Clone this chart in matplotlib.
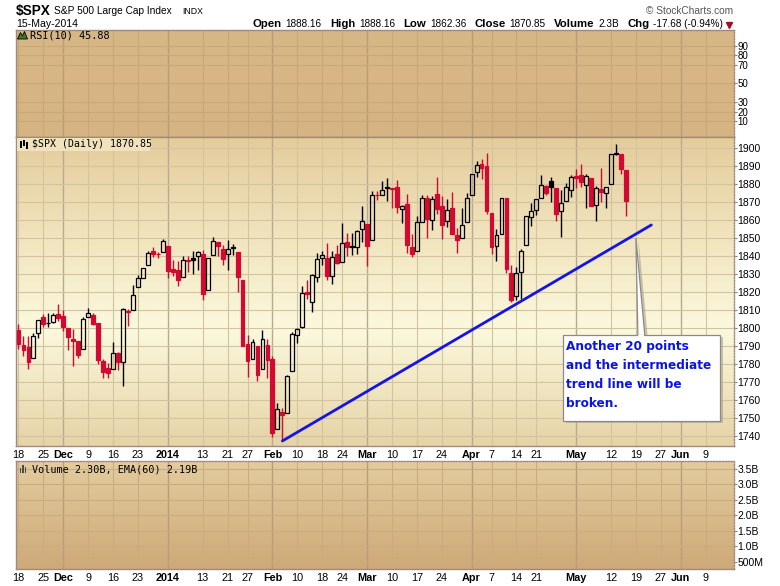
import numpy as np
import pandas as pd
import matplotlib
matplotlib.use("Agg")
import matplotlib.pyplot as plt
from matplotlib.patches import Rectangle, Polygon

# ---------------------------------------------------------------------------
# data: $SPX daily candles, 18-Nov-2013 .. 15-May-2014
# ---------------------------------------------------------------------------
HOLIDAYS = ["2013-11-28", "2013-12-25", "2014-01-01", "2014-01-20",
            "2014-02-17", "2014-04-18", "2014-05-26"]
FIRST_DAY, LAST_BAR, LAST_DAY = "2013-11-18", "2014-05-15", "2014-06-16"
PREV_CLOSE = 1798.2

OPEN = [1798.8, 1790.8, 1789.6, 1783.5, 1797.2, 1806.3, 1802.9, 1803.5, 1808.0,
        1806.6, 1800.1, 1794.2, 1792.8, 1788.4, 1806.2, 1807.6, 1802.8, 1781.7, 1778.0,
        1777.5, 1786.5, 1781.5, 1809.0, 1810.4, 1822.9, 1828.0, 1835.0, 1843.0, 1841.5, 1842.6,
        1845.9, 1833.2, 1832.3, 1828.7, 1837.9, 1839.0, 1840.1, 1841.3, 1821.4, 1840.5, 1848.0,
        1844.2, 1841.1, 1844.7, 1842.3, 1827.0, 1791.0, 1783.0, 1790.2, 1777.2, 1790.9,
        1782.7, 1743.8, 1753.4, 1753.0, 1776.0, 1796.2, 1800.5, 1820.1, 1814.8, 1828.5,
        1839.0, 1838.9, 1829.2, 1841.1, 1836.8, 1847.7, 1845.8, 1844.9, 1855.1,
        1857.7, 1849.2, 1874.1, 1874.2, 1878.5, 1877.9, 1878.3, 1866.2, 1869.1, 1845.1,
        1842.8, 1858.9, 1872.3, 1860.1, 1874.5, 1867.7, 1859.5, 1867.1, 1852.1, 1850.1, 1859.2,
        1874.0, 1886.6, 1891.4, 1890.3, 1863.9, 1845.5, 1852.6, 1872.3, 1830.7,
        1818.2, 1831.5, 1846.0, 1861.7, 1865.8, 1872.6, 1879.3, 1882.0, 1877.7,
        1865.0, 1870.8, 1877.1, 1884.4, 1885.3, 1879.5, 1883.7, 1868.5, 1877.4, 1875.3,
        1880.0, 1896.8, 1897.1, 1888.2]
HIGH = [1802.3, 1795.5, 1795.7, 1797.2, 1804.8, 1808.1, 1808.4, 1808.3, 1813.6,
        1810.0, 1800.1, 1799.8, 1792.8, 1806.0, 1811.5, 1808.5, 1803.0, 1783.0, 1780.9,
        1792.2, 1786.8, 1811.1, 1810.9, 1823.8, 1829.8, 1833.3, 1842.8, 1844.9, 1842.5, 1849.4,
        1845.9, 1838.2, 1837.2, 1840.1, 1840.0, 1843.2, 1843.2, 1843.5, 1839.3, 1850.8, 1848.0,
        1846.0, 1849.3, 1846.9, 1842.3, 1827.0, 1796.0, 1793.9, 1790.2, 1798.8, 1793.9,
        1784.8, 1758.7, 1755.8, 1774.1, 1798.0, 1799.9, 1823.5, 1826.6, 1830.3, 1841.7,
        1842.9, 1847.5, 1842.8, 1846.1, 1858.7, 1852.9, 1852.7, 1854.5, 1867.9,
        1857.7, 1876.2, 1876.5, 1881.9, 1883.6, 1877.9, 1882.4, 1868.4, 1874.4, 1852.4,
        1862.3, 1873.8, 1874.1, 1873.5, 1884.0, 1873.3, 1871.9, 1875.9, 1855.6, 1866.6, 1875.2,
        1885.8, 1893.2, 1893.8, 1897.3, 1864.0, 1855.0, 1872.4, 1872.5, 1835.1,
        1834.2, 1844.0, 1862.3, 1869.6, 1871.9, 1884.9, 1879.8, 1884.1, 1877.7,
        1877.0, 1880.6, 1885.2, 1888.6, 1891.3, 1885.5, 1883.7, 1878.8, 1889.1, 1878.6,
        1897.1, 1902.2, 1897.1, 1888.2]
LOW = [1788.4, 1784.7, 1777.2, 1783.5, 1794.7, 1800.6, 1800.8, 1802.8, 1804.0,
       1798.6, 1787.9, 1779.1, 1783.4, 1788.4, 1806.2, 1801.8, 1780.1, 1772.3, 1772.5,
       1777.5, 1777.1, 1768.0, 1801.4, 1810.3, 1822.9, 1828.0, 1835.0, 1839.8, 1838.8, 1842.4,
       1827.7, 1829.1, 1823.7, 1828.7, 1831.4, 1830.4, 1832.4, 1815.5, 1821.4, 1840.5, 1840.3,
       1835.2, 1832.4, 1840.9, 1820.1, 1790.3, 1772.9, 1783.0, 1770.5, 1777.2, 1772.3,
       1739.7, 1743.8, 1737.9, 1753.0, 1776.0, 1791.8, 1800.4, 1816.0, 1809.2, 1825.6,
       1835.0, 1827.0, 1824.6, 1835.6, 1836.8, 1840.2, 1840.7, 1841.1, 1847.7,
       1834.4, 1849.2, 1871.1, 1874.2, 1870.6, 1867.0, 1863.9, 1858.4, 1841.9, 1839.6,
       1842.8, 1858.9, 1850.4, 1854.6, 1863.5, 1849.7, 1856.0, 1852.6, 1842.1, 1850.1, 1859.2,
       1874.0, 1883.8, 1882.7, 1863.3, 1841.5, 1837.5, 1852.4, 1830.9, 1814.4,
       1815.8, 1816.3, 1846.0, 1856.7, 1863.2, 1872.6, 1873.9, 1870.2, 1859.7,
       1850.6, 1870.8, 1872.7, 1878.0, 1878.5, 1866.8, 1867.7, 1859.8, 1870.1, 1867.0,
       1880.0, 1896.1, 1885.8, 1862.4]
CLOSE = [1791.5, 1787.9, 1781.4, 1795.9, 1804.8, 1802.5, 1802.8, 1807.2, 1805.8,
         1800.9, 1795.2, 1792.8, 1785.0, 1805.1, 1808.4, 1802.6, 1782.2, 1775.5, 1775.3,
         1786.5, 1781.0, 1810.7, 1809.6, 1818.3, 1828.0, 1833.3, 1842.0, 1841.4, 1841.1, 1848.4,
         1832.0, 1831.4, 1826.8, 1837.9, 1837.5, 1838.1, 1842.4, 1819.2, 1838.9, 1848.4, 1845.9,
         1838.7, 1843.8, 1844.9, 1828.5, 1790.3, 1781.6, 1792.5, 1774.2, 1794.2, 1782.6,
         1741.9, 1755.2, 1751.6, 1773.4, 1797.0, 1799.8, 1819.8, 1819.3, 1829.8, 1838.6,
         1840.8, 1828.8, 1839.8, 1836.3, 1847.6, 1845.1, 1845.2, 1854.3, 1859.5,
         1845.7, 1873.9, 1873.8, 1877.0, 1878.0, 1877.2, 1867.6, 1868.2, 1846.3, 1841.1,
         1858.8, 1872.3, 1860.8, 1872.0, 1866.5, 1857.4, 1865.6, 1852.6, 1849.0, 1857.6, 1872.3,
         1885.5, 1890.9, 1888.8, 1865.1, 1845.0, 1852.0, 1872.2, 1833.1, 1815.7,
         1830.6, 1843.0, 1862.3, 1864.9, 1871.9, 1879.6, 1875.4, 1878.6, 1863.4,
         1869.4, 1878.3, 1884.0, 1883.7, 1881.1, 1884.7, 1867.7, 1878.2, 1875.6, 1878.5,
         1896.7, 1897.5, 1888.5, 1870.9]

XTICK_DATES = ["2013-11-18", "2013-11-25", "2013-12-02", "2013-12-09", "2013-12-16",
               "2013-12-23", "2014-01-02", "2014-01-13", "2014-01-21", "2014-01-27",
               "2014-02-03", "2014-02-10", "2014-02-18", "2014-02-24", "2014-03-03",
               "2014-03-10", "2014-03-17", "2014-03-24", "2014-04-01", "2014-04-07",
               "2014-04-14", "2014-04-21", "2014-05-01", "2014-05-12", "2014-05-19",
               "2014-05-27", "2014-06-02", "2014-06-09"]
XTICK_LABELS = ["18", "25", "Dec", "9", "16", "23", "2014", "13", "21", "27",
                "Feb", "10", "18", "24", "Mar", "10", "17", "24", "Apr", "7",
                "14", "21", "May", "12", "19", "27", "Jun", "9"]
MAJOR_LABELS = ["Dec", "2014", "Feb", "Mar", "Apr", "May", "Jun"]

PRICE_TICKS = list(range(1740, 1901, 10))
RSI_TICKS = [10, 20, 30, 50, 70, 80, 90]
VOL_TICKS = [0.5e9, 1.0e9, 1.5e9, 2.0e9, 2.5e9, 3.0e9, 3.5e9]
VOL_LABELS = ["500M", "1.0B", "1.5B", "2.0B", "2.5B", "3.0B", "3.5B"]

# trend line drawn by hand on the chart (date, price)
TREND_START = ("2014-02-05", 1737.4)
TREND_END = ("2014-05-22", 1857.4)
NOTE = "Another 20 points\nand the intermediate\ntrend line will be\nbroken."

# ---------------------------------------------------------------------------
W, H = 780, 586
plt.rcParams["font.family"] = ["Liberation Sans", "DejaVu Sans"]
fig = plt.figure(figsize=(W / 100, H / 100), dpi=100, facecolor="white")


def fx(x, y):
    return x / W, 1 - y / H


def add_axes(top, bottom, left=16, right=733.5):
    return fig.add_axes([left / W, 1 - bottom / H, (right - left) / W, (bottom - top) / H])


ax_rsi = add_axes(29.5, 137.3)
ax_px = add_axes(137.3, 446)
ax_vol = add_axes(461, 569)

days = pd.bdate_range(FIRST_DAY, LAST_DAY, freq="C", holidays=HOLIDAYS)
n_bars = days.get_loc(pd.Timestamp(LAST_BAR)) + 1
xticks = [days.get_loc(pd.Timestamp(d)) for d in XTICK_DATES]
XLIM = (-0.5, len(days) - 0.4)


def gradient(ax, stops):
    pos = [s[0] for s in stops]
    cols = np.array([matplotlib.colors.to_rgb(s[1]) for s in stops])
    t = np.linspace(0, 1, 256)
    img = np.stack([np.interp(t, pos, cols[:, k]) for k in range(3)], axis=-1)[:, None, :]
    ax.imshow(img, extent=[0, 1, 0, 1], transform=ax.transAxes, aspect="auto",
              zorder=0, origin="upper", interpolation="bilinear")


def style_panel(ax, grid_minor, grid_major):
    ax.set_xlim(*XLIM)
    for xt, lab in zip(xticks, XTICK_LABELS):
        major = lab in MAJOR_LABELS
        ax.axvline(xt, color=grid_major if major else grid_minor,
                   lw=1.0 if major else 0.8, zorder=0.5)
    for sp in ax.spines.values():
        sp.set_color("#9e8a80")
        sp.set_linewidth(1.0)
    ax.spines["right"].set_linestyle((0, (1, 1.2)))
    ax.yaxis.tick_right()
    ax.tick_params(axis="y", length=2, pad=1.0, labelsize=7.5, colors="#9e7a70",
                   labelcolor="black")
    ax.set_xticks(xticks)
    ax.tick_params(axis="x", length=0, pad=3.2, labelsize=7.8)


def hgrid(ax, ticks, color):
    for t in ticks:
        ax.axhline(t, color=color, lw=0.8, zorder=0.5)


def set_xlabels(ax):
    ax.set_xticklabels(XTICK_LABELS)
    for lab in ax.get_xticklabels():
        if lab.get_text() in MAJOR_LABELS:
            lab.set_fontweight("bold")


# --- RSI panel (empty, only scale) ---
gradient(ax_rsi, [(0, "#d8b786"), (1, "#d6b382")])
style_panel(ax_rsi, "#c7a877", "#b89c78")
ax_rsi.set_ylim(-7.4, 107.6)
ax_rsi.set_yticks(RSI_TICKS)
ax_rsi.set_yticklabels([str(t) for t in RSI_TICKS])
ax_rsi.tick_params(axis="y", labelsize=7.0)
hgrid(ax_rsi, RSI_TICKS, "#c7a877")
ax_rsi.set_xticklabels([])

# --- price panel ---
gradient(ax_px, [(0, "#e4cc9c"), (0.35, "#f2e6c0"), (0.62, "#fbf9de"), (1, "#e6d3a6")])
style_panel(ax_px, "#d3c39e", "#b8aa92")
ax_px.set_ylim(1734.6, 1906.1)
ax_px.set_yticks(PRICE_TICKS)
ax_px.set_yticklabels([str(t) for t in PRICE_TICKS])
hgrid(ax_px, PRICE_TICKS, "#d3c39e")
set_xlabels(ax_px)

o, h, l, c = (np.array(a, dtype=float) for a in (OPEN, HIGH, LOW, CLOSE))
x = np.arange(n_bars)
prev = np.r_[PREV_CLOSE, c[:-1]]
RED = "#d20a32"
colors = np.where(c >= prev, "black", RED)
filled = c < o
lo_b, hi_b = np.minimum(o, c), np.maximum(o, c)
ax_px.vlines(x, hi_b, h, colors=colors, lw=1.0, zorder=3)
ax_px.vlines(x, l, lo_b, colors=colors, lw=1.0, zorder=3)
faces = [col if f else "none" for col, f in zip(colors, filled)]
ax_px.bar(x, np.maximum(hi_b - lo_b, 0.35), bottom=lo_b, width=0.78,
          color=faces, edgecolor=colors, linewidth=0.9, zorder=4)

# trend line
ti0 = days.get_loc(pd.Timestamp(TREND_START[0]))
ti1 = days.get_loc(pd.Timestamp(TREND_END[0])) + 0.1
ax_px.plot([ti0, ti1], [TREND_START[1], TREND_END[1]], color="#1414e6", lw=2.0,
           solid_capstyle="round", zorder=5)

# callout box with pointer
bx0, bx1, by0, by1 = 109.4, 140.9, 1748.7, 1796.3
sx, sy = 0.55, -1.3
ax_px.add_patch(Rectangle((bx0 + sx, by0 + sy), bx1 - bx0, by1 - by0,
                          facecolor="#a89880", alpha=0.55, lw=0, zorder=6))
ax_px.add_patch(Polygon([(124.0 + sx, 1850.1 + sy), (124.4 + sx, by1), (125.8 + sx, by1)],
                        closed=True, facecolor="#a89880", alpha=0.55, lw=0, zorder=6))
ax_px.add_patch(Polygon([(124.0, 1850.1), (124.4, by1 - 0.5), (125.8, by1 - 0.5)],
                        closed=True, facecolor="white", edgecolor="#8a8a8a", lw=0.9, zorder=7))
ax_px.add_patch(Rectangle((bx0, by0), bx1 - bx0, by1 - by0, facecolor="white",
                          edgecolor="#8a8a8a", lw=0.9, zorder=7))
ax_px.add_patch(Rectangle((124.5, by1 - 1.2), 1.2, 1.0, facecolor="white", lw=0, zorder=8))
ax_px.text(bx0 + 0.6, by1 - 2.6, NOTE, ha="left", va="top", color="#0a14e6",
           fontsize=8.7, fontweight="bold", family="DejaVu Sans", linespacing=1.62,
           zorder=9)

# --- volume panel (empty, only scale) ---
gradient(ax_vol, [(0, "#e3cc9e"), (1, "#cfa978")])
style_panel(ax_vol, "#c9ad80", "#b89c7c")
ax_vol.set_ylim(0.259e9, 3.759e9)
ax_vol.set_yticks(VOL_TICKS)
ax_vol.set_yticklabels(VOL_LABELS)
hgrid(ax_vol, VOL_TICKS, "#c9ad80")
ax_vol.spines["top"].set_linestyle((0, (1, 1.2)))
set_xlabels(ax_vol)

# --- panel captions ---
mono = "DejaVu Sans Mono"
fig.text(*fx(30, 35.5), "RSI(10) 45.88", fontsize=7.4, family=mono, va="center")
fig.add_artist(Polygon([fx(17.5, 39), fx(20.5, 32.5), fx(22.5, 36), fx(24.5, 31.5), fx(27.5, 39)],
                       closed=True, transform=fig.transFigure, facecolor="#3f7a2a",
                       edgecolor="black", lw=0.6))
fig.add_artist(Rectangle(fx(17, 150.5), 133 / W, 13 / H, transform=fig.transFigure,
                         facecolor="#efe2bd", lw=0, zorder=2))
fig.text(*fx(32, 144), "$SPX (Daily) 1870.85", fontsize=7.1, family=mono, va="center", zorder=3)
for k, (top, bot) in enumerate([(141, 148), (140, 146), (142, 149)]):
    fig.add_artist(Rectangle(fx(20 + 3 * k, bot), 2 / W, (bot - top) / H,
                             transform=fig.transFigure, facecolor="black", lw=0, zorder=3))
fig.text(*fx(32, 469), "Volume 2.30B, EMA(60) 2.19B", fontsize=7.3, family=mono, va="center")
for k, hh in enumerate([5, 8, 6]):
    fig.add_artist(Rectangle(fx(19.5 + 2.6 * k, 473), 1.8 / W, hh / H,
                             transform=fig.transFigure, facecolor="#4a4a4a", lw=0))

# --- header ---
fig.text(*fx(16, 10.5), "$SPX", fontsize=9.8, fontweight="bold", va="center")
fig.text(*fx(54, 10.5), "S&P 500 Large Cap Index", fontsize=7.3, va="center")
fig.text(*fx(182, 11), "INDX", fontsize=6.3, va="center")
fig.text(*fx(16, 24), "15-May-2014", fontsize=7.6, va="center")
fig.text(*fx(733, 10.5), "\u00a9 StockCharts.com", fontsize=7.3, color="#555555",
         va="center", ha="right")

pieces = [("Open", True), ("1888.16", False), ("High", True), ("1888.16", False),
          ("Low", True), ("1862.36", False), ("Close", True), ("1870.85", False),
          ("Volume", True), ("2.3B", False), ("Chg", True), ("-17.68 (-0.94%)", False)]
renderer = fig.canvas.get_renderer()
xr = 723.0
for k, (txt, bold) in enumerate(reversed(pieces)):
    t = fig.text(*fx(xr, 24), txt, fontsize=8.2 if bold else 7.2,
                 fontweight="bold" if bold else "normal", va="center", ha="right")
    wpx = t.get_window_extent(renderer=renderer).width
    xr -= wpx + (4.0 if not bold else 8.0)
fig.add_artist(plt.Line2D([729 / W], [1 - 24.5 / H], marker="v", markersize=4.5,
                          color="#a0102a", transform=fig.transFigure))

fig.savefig("out.png", dpi=100, facecolor="white")
